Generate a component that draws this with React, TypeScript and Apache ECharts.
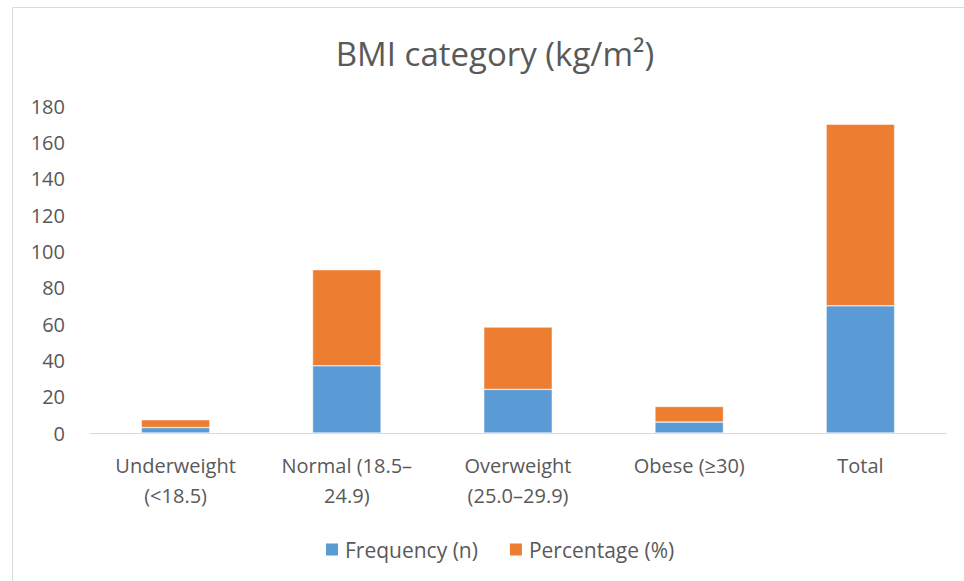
import React, { useEffect, useRef } from "react";
import * as echarts from "echarts";

const categories = ["Underweight\n(<18.5)", "Normal (18.5–\n24.9)", "Overweight\n(25.0–29.9)", "Obese (≥30)", "Total"];
const frequency = [3, 37, 24, 6, 70];
const percentage = [4.3, 52.9, 34.3, 8.6, 100];
const yTicks = { min: 0, max: 180, interval: 20 };

const FONT = "'Open Sans', 'Noto Sans', sans-serif";

export default function App() {
  const ref = useRef<HTMLDivElement>(null);
  useEffect(() => {
    const chart = echarts.init(ref.current!, undefined, { renderer: "svg" });
    chart.setOption({
      animation: false,
      backgroundColor: "#ffffff",
      textStyle: { fontFamily: FONT },
      title: {
        text: "BMI category (kg/m²)",
        left: 490,
        textAlign: "center",
        top: 32,
        textStyle: { fontFamily: FONT, fontSize: 33, fontWeight: "normal", color: "#595959" },
      },
      graphic: [
        {
          type: "rect",
          shape: { x: 12.5, y: 7.5, width: 980, height: 600 },
          style: { fill: "none", stroke: "#d9d9d9", lineWidth: 1 },
          silent: true,
        },
      ],
      legend: {
        top: 539,
        left: 324,
        padding: 0,
        itemWidth: 14,
        itemHeight: 14,
        itemGap: 30,
        icon: "rect",
        textStyle: { fontFamily: FONT, fontSize: 21, color: "#595959", padding: [0, 0, 0, 1] },
        data: ["Frequency (n)", "Percentage (%)"],
      },
      grid: { left: 90, right: 18, top: 106, bottom: 148 },
      xAxis: {
        type: "category",
        data: categories,
        axisLine: { lineStyle: { color: "#d9d9d9", width: 1 } },
        axisTick: { show: false },
        axisLabel: { fontFamily: FONT, fontSize: 20, color: "#595959", margin: 17, lineHeight: 30, interval: 0 },
      },
      yAxis: {
        type: "value",
        min: yTicks.min,
        max: yTicks.max,
        interval: yTicks.interval,
        axisLine: { show: false },
        axisTick: { show: false },
        splitLine: { show: false },
        axisLabel: { fontFamily: FONT, fontSize: 20, color: "#595959", margin: 25 },
      },
      series: [
        {
          name: "Frequency (n)",
          type: "bar",
          stack: "a",
          data: frequency,
          barWidth: "40%",
          itemStyle: { color: "#5B9BD5", borderColor: "#ffffff", borderWidth: 0.5 },
        },
        {
          name: "Percentage (%)",
          type: "bar",
          stack: "a",
          data: percentage,
          barWidth: "40%",
          itemStyle: { color: "#ED7D31", borderColor: "#ffffff", borderWidth: 0.5 },
        },
      ],
    });
    return () => chart.dispose();
  }, []);
  return <div ref={ref} style={{ position: "fixed", left: 0, top: 0, width: 964, height: 581 }} />;
}
